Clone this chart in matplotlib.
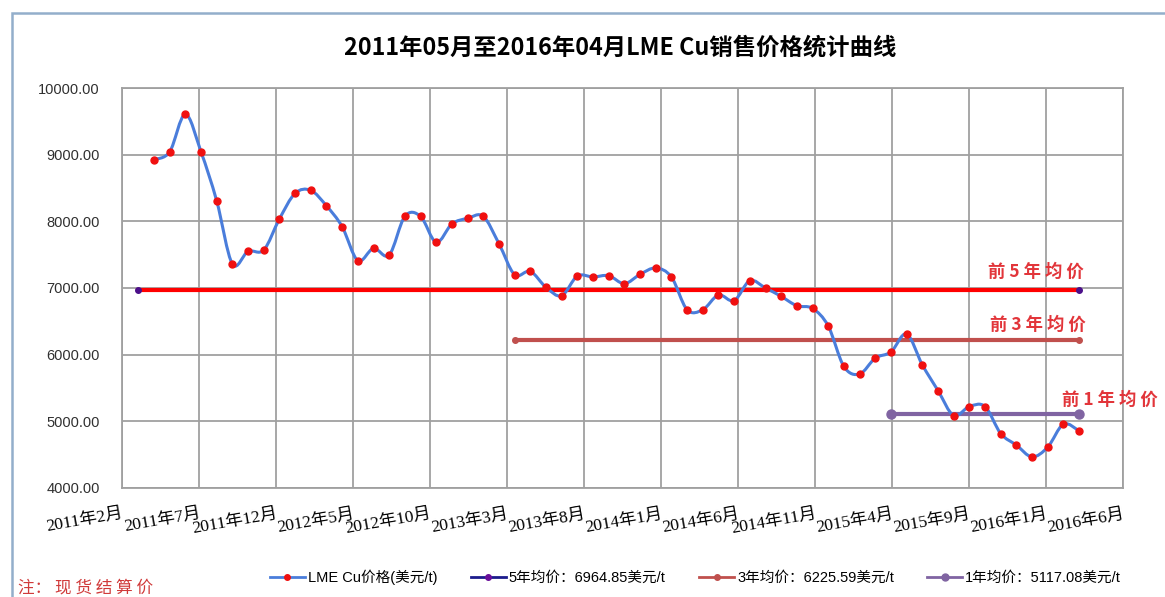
import numpy as np
import pandas as pd
import matplotlib.pyplot as plt
from matplotlib.path import Path
from matplotlib.patches import PathPatch, Rectangle
from matplotlib.lines import Line2D

plt.rcParams['font.family'] = ['Liberation Sans', 'Noto Sans CJK SC']

# 月度 LME Cu 价格 (美元/t), 2011-05 ~ 2016-04
months = pd.period_range('2011-05', '2016-04', freq='M')
prices = [8926, 9042, 9607, 9042, 8306, 7360, 7550, 7570, 8036, 8420, 8465, 8232,
          7920, 7410, 7595, 7495, 8075, 8075, 7685, 7961, 8045, 8075, 7665, 7200,
          7250, 7010, 6884, 7180, 7165, 7185, 7065, 7205, 7300, 7165, 6674, 6674,
          6895, 6810, 7110, 7000, 6874, 6734, 6694, 6430, 5823, 5709, 5949, 6040,
          6310, 5848, 5462, 5087, 5222, 5222, 4817, 4643, 4467, 4613, 4958, 4857]

avg_names = ['5年均价', '3年均价', '1年均价']
avg_values = [6964.85, 6225.59, 5117.08]
avg_start = ['2011-04', '2013-04', '2015-04']
avg_end = '2016-04'
avg_notes = ['前 5 年 均 价', '前 3 年 均 价', '前 1 年 均 价']

tick_labels = ['2011年2月', '2011年7月', '2011年12月', '2012年5月', '2012年10月',
               '2013年3月', '2013年8月', '2014年1月', '2014年6月', '2014年11月',
               '2015年4月', '2015年9月', '2016年1月', '2016年6月']
yticks = [4000, 5000, 6000, 7000, 8000, 9000, 10000]


def month_pos(p):
    return (pd.Period(p, freq='M') - months[0]).n


def smooth_path(x, y, k=1 / 6):
    # 类似 Excel 平滑线: Catmull-Rom -> 三次贝塞尔
    pts = np.column_stack([x, y]).astype(float)
    n = len(pts)
    verts = [pts[0]]
    codes = [Path.MOVETO]
    for i in range(n - 1):
        p0 = pts[i - 1] if i > 0 else pts[i]
        p1, p2 = pts[i], pts[i + 1]
        p3 = pts[i + 2] if i + 2 < n else pts[i + 1]
        verts += [p1 + (p2 - p0) * k, p2 - (p3 - p1) * k, p2]
        codes += [Path.CURVE4] * 3
    return Path(verts, codes)


fig = plt.figure(figsize=(11.65, 5.97), dpi=100)
ax = fig.add_axes([122 / 1165, 1 - 488 / 597, 1001 / 1165, 400 / 597])

# 外框
fig.patches.append(Rectangle((12 / 1165, -0.1), 1.2, 1 - 13 / 597 + 0.1,
                             transform=fig.transFigure, fill=False,
                             edgecolor='#93aecb', lw=1.8))

x = np.array([month_pos(m) for m in months])
blue = '#4a7ddb'
ax.add_patch(PathPatch(smooth_path(x, prices), facecolor='none',
                       edgecolor=blue, lw=2.2, zorder=3))
ax.plot(x, prices, 'o', color='#f01010', ms=5, zorder=4)

line_colors = ['#ff0000', '#c0504d', '#8064a2']
marker_colors = ['#4b0f8a', '#c0504d', '#8064a2']
marker_sizes = [4, 4, 6.5]
note_offsets = [(-31, 13), (-30, 11), (22, 10)]
x_end = month_pos(avg_end)
for i in range(3):
    xs = [month_pos(avg_start[i]), x_end]
    ax.plot(xs, [avg_values[i]] * 2, color=line_colors[i], lw=3, marker='o',
            ms=marker_sizes[i], mfc=marker_colors[i], mec=marker_colors[i], zorder=2)
    ax.annotate(avg_notes[i], xy=(x_end, avg_values[i]), xytext=note_offsets[i],
                textcoords='offset points', ha='center', va='center',
                color='#e2353a', fontsize=12.5, fontweight='bold',
                family=['Noto Sans CJK SC'])

xmin, xmax = -2.04, 61.8
ax.set_xlim(xmin, xmax)
ax.set_ylim(4000, 10000)
ax.set_xticks(np.linspace(xmin, xmax, len(tick_labels)))
ax.set_xticklabels(tick_labels, rotation=10, ha='right', va='top',
                   rotation_mode='anchor', fontsize=12.5,
                   family=['Liberation Serif', 'Noto Sans CJK SC'])
ax.set_yticks(yticks)
ax.set_yticklabels([f'{v:.2f}' for v in yticks], fontsize=10.5, color='#303030')
ax.tick_params(axis='both', length=0)
ax.tick_params(axis='y', pad=16)
ax.tick_params(axis='x', pad=13)
ax.grid(True, color='#a0a0a0', lw=1.3)
ax.set_axisbelow(True)
for s in ax.spines.values():
    s.set_color('#a0a0a0')
    s.set_linewidth(1.3)

fig.text(0.532, 1 - 47 / 597, '2011年05月至2016年04月LME Cu销售价格统计曲线',
         ha='center', va='center', fontsize=16.8, fontweight='bold',
         family=['Noto Sans CJK SC'])

handles = [Line2D([], [], color=blue, lw=2, marker='o', ms=4, mfc='#f01010', mec='#f01010'),
           Line2D([], [], color='#1c1c8c', lw=2, marker='o', ms=4, mfc='#6a0f9a', mec='#6a0f9a'),
           Line2D([], [], color='#c0504d', lw=2, marker='o', ms=4),
           Line2D([], [], color='#8064a2', lw=2, marker='o', ms=5)]
labels = ['LME Cu价格(美元/t)'] + [f'{n}：{v:.2f}美元/t' for n, v in zip(avg_names, avg_values)]
fig.legend(handles, labels, loc='center', bbox_to_anchor=(0.597, 1 - 577 / 597),
           ncol=4, frameon=False, fontsize=10.5, handlelength=2.4,
           columnspacing=2.3, handletextpad=0.2)

fig.text(18 / 1165, 1 - 588 / 597, '注： 现 货 结 算 价', color='#d03a3a', fontsize=12,
         ha='left', va='center', family=['Noto Sans CJK SC'])

fig.savefig('out.png', dpi=100)
